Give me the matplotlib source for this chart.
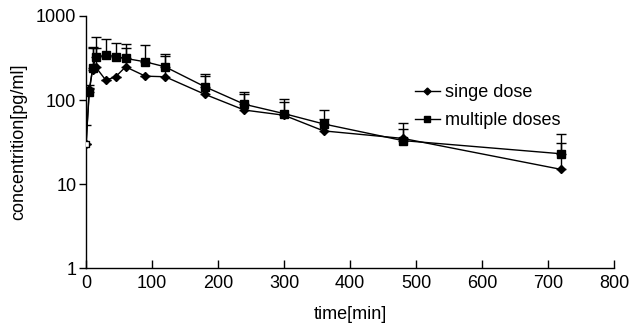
import numpy as np
import matplotlib.pyplot as plt
from matplotlib.lines import Line2D

plt.rcParams['font.family'] = ['Liberation Sans', 'DejaVu Sans']

# sampling times [min]
t = [0, 5, 10, 15, 30, 45, 60, 90, 120, 180, 240, 300, 360, 480, 720]

# mean concentrations [pg/ml]
single = [30, 135, 230, 245, 172, 189, 248, 192, 189, 117, 76, 66, 43, 35, 15]
multi = [30, 126, 237, 320, 341, 327, 312, 284, 248, 144, 89, 69, 52, 33, 23]

# upper end of error bars
single_up = [50, 150, 410, 417, 172, 189, 410, 192, 335, 192, 117, 95, 60, 45, 31]
multi_up = [30, 140, 430, 560, 525, 470, 457, 449, 348, 203, 125, 103, 76, 54, 39]

fig = plt.figure(figsize=(6.3, 3.23), dpi=100)
ax = fig.add_axes([0.1365, 0.169, 0.838, 0.782])

s = np.array(single)
m = np.array(multi)
ax.errorbar(t, s, yerr=[np.zeros_like(s), np.array(single_up) - s],
            color='k', lw=1, elinewidth=1, capsize=3.5, capthick=1,
            marker='D', ms=4.5, mfc='k', mec='k', zorder=3)
ax.errorbar(t, m, yerr=[np.zeros_like(m), np.array(multi_up) - m],
            color='k', lw=1, elinewidth=1, capsize=3.5, capthick=1,
            marker='s', ms=6, mfc='k', mec='k',
            markevery=list(range(1, len(t))), zorder=3)
# open square at time zero
ax.plot(t[:1], multi[:1], ls='none', marker='s', ms=5, mfc='white', mec='k',
        mew=1, zorder=4)

ax.set_yscale('log')
ax.set_ylim(1, 1000)
ax.set_xlim(0, 800)
ax.set_xticks(range(0, 801, 100))
ax.set_yticks([1, 10, 100, 1000])
ax.set_yticklabels(['1', '10', '100', '1000'])
ax.minorticks_off()
ax.tick_params(axis='x', direction='in', length=6, width=1, labelsize=13, pad=5)
ax.tick_params(axis='y', direction='out', length=5, width=1, labelsize=13, pad=2)
ax.spines['top'].set_visible(False)
ax.spines['right'].set_visible(False)
for sp in ('left', 'bottom'):
    ax.spines[sp].set_linewidth(1)

ax.set_xlabel('time[min]', fontsize=13, labelpad=10)
ax.set_ylabel('concentrition[pg/ml]', fontsize=13, labelpad=6)

handles = [Line2D([], [], color='k', lw=1, marker='D', ms=3.5),
           Line2D([], [], color='k', lw=1, marker='s', ms=4)]
ax.legend(handles, ['singe dose', 'multiple doses'], loc='center left',
          bbox_to_anchor=(0.592, 0.64), frameon=False, fontsize=13,
          handlelength=1.4, handletextpad=0.3, labelspacing=0.6)

fig.savefig('out.png', dpi=100)
